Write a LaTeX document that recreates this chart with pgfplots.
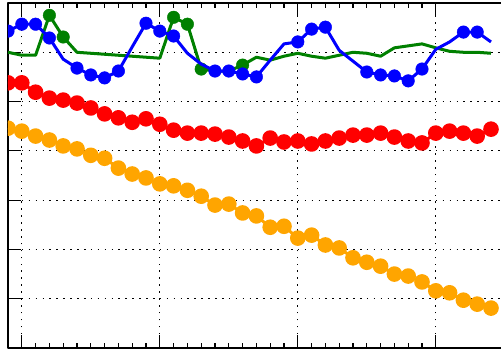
\documentclass[border=0pt]{standalone}
\usepackage{pgfplots}
\usepackage{pgfplotstable}
\pgfplotsset{compat=1.18}
\definecolor{cblue}{RGB}{0,0,255}
\definecolor{cgreen}{RGB}{0,128,0}
\definecolor{cred}{RGB}{255,0,0}
\definecolor{corange}{RGB}{255,165,0}
\pgfplotstableread{
x blue green red orange
0 6.43 6.00 5.38 4.46
1 6.57 5.94 5.38 4.40
2 6.57 5.94 5.19 4.30
3 6.29 6.75 5.07 4.22
4 5.86 6.31 5.03 4.10
5 5.68 6.00 4.97 4.04
6 5.54 5.98 4.87 3.91
7 5.48 5.96 4.75 3.85
8 5.62 5.94 4.67 3.65
9 6.11 5.92 4.58 3.53
10 6.59 5.90 4.65 3.45
11 6.43 5.88 4.54 3.33
12 6.33 6.71 4.42 3.29
13 5.98 6.57 4.36 3.20
14 5.76 5.66 4.36 3.08
15 5.62 5.62 4.34 2.90
16 5.62 5.62 4.28 2.92
17 5.56 5.74 4.20 2.74
18 5.50 5.90 4.10 2.68
19 5.84 5.84 4.26 2.45
20 6.17 5.92 4.18 2.47
21 6.21 5.98 4.20 2.23
22 6.47 5.92 4.14 2.29
23 6.51 5.88 4.20 2.09
24 6.04 5.94 4.26 2.03
25 5.82 6.00 4.32 1.83
26 5.60 5.98 4.32 1.74
27 5.54 5.92 4.36 1.66
28 5.52 6.09 4.28 1.50
29 5.42 6.13 4.20 1.46
30 5.66 6.17 4.16 1.34
31 6.06 6.09 4.36 1.16
32 6.21 6.02 4.40 1.12
33 6.41 6.00 4.36 0.97
34 6.41 6.00 4.30 0.89
35 6.21 5.98 4.44 0.81
}\data
\begin{document}
\begin{tikzpicture}
\begin{axis}[
  scale only axis,
  width=496.8bp, height=345bp,
  xmin=0, xmax=36, ymin=0, ymax=7,
  xtick={1,11,21,31}, ytick={1,2,3,4,5,6},
  minor x tick num=9,
  xticklabels={}, yticklabels={},
  tick align=inside,
  xtick pos=both, ytick pos=left,
  major tick length=13bp, minor tick length=5bp,
  every tick/.style={black, line width=1.2bp},
  grid=major,
  major grid style={black, line width=1.2bp, dash pattern=on 1.6bp off 5.3bp},
  axis line style={black, line width=2bp},
  clip marker paths=true,
  line join=round,
]
\addplot[corange, line width=3bp, mark=*, mark size=6.3bp, mark options={draw=corange, fill=corange}] table[x=x, y=orange] {\data};
\addplot[cred, line width=3bp, mark=*, mark size=6.3bp, mark options={draw=cred, fill=cred}] table[x=x, y=red] {\data};
\addplot[cgreen, line width=3bp, no marks] table[x=x, y=green] {\data};
\addplot[only marks, mark=*, mark size=6.3bp, mark options={draw=cgreen, fill=cgreen}] coordinates {
(3,6.75) (4,6.31) (12,6.71) (13,6.57) (14,5.66) (17,5.74)};
\addplot[cblue, line width=3bp, no marks] table[x=x, y=blue] {\data};
\addplot[only marks, mark=*, mark size=6.3bp, mark options={draw=cblue, fill=cblue}] coordinates {
(0,6.43) (1,6.57) (2,6.57) (3,6.29) (5,5.68) (6,5.54) (7,5.48) (8,5.62)
(10,6.59) (11,6.43) (12,6.33) (15,5.62) (16,5.62) (17,5.56) (18,5.50)
(21,6.21) (22,6.47) (23,6.51) (26,5.60) (27,5.54) (28,5.52) (29,5.42) (30,5.66)
(33,6.41) (34,6.41)};
\coordinate (sw) at (rel axis cs:0,0);
\end{axis}
\pgfresetboundingbox
\path (sw) ++(-8bp,-3bp) rectangle ++(501bp,351bp);
\end{tikzpicture}
\end{document}
